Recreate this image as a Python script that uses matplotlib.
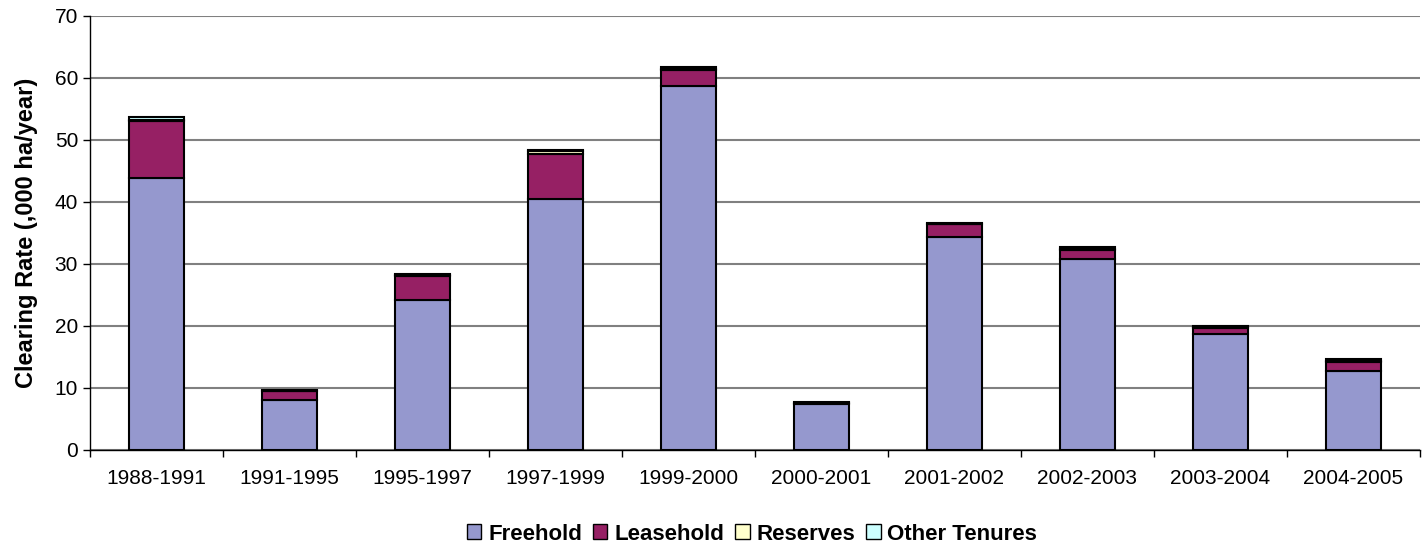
import numpy as np
import matplotlib.pyplot as plt
from matplotlib.ticker import FixedLocator

periods = ["1988-1991", "1991-1995", "1995-1997", "1997-1999", "1999-2000",
           "2000-2001", "2001-2002", "2002-2003", "2003-2004", "2004-2005"]
freehold = [43.9, 8.0, 24.2, 40.5, 58.7, 7.4, 34.4, 30.8, 18.7, 12.7]
leasehold = [9.2, 1.5, 3.9, 7.2, 2.6, 0.2, 2.1, 1.5, 1.0, 1.5]
reserves = [0.1, 0.0, 0.1, 0.5, 0.1, 0.0, 0.0, 0.1, 0.1, 0.1]
other_tenures = [0.4, 0.1, 0.2, 0.1, 0.3, 0.2, 0.1, 0.3, 0.2, 0.3]

series = [("Freehold", freehold, "#9598ce"),
          ("Leasehold", leasehold, "#962064"),
          ("Reserves", reserves, "#ffffcc"),
          ("Other Tenures", other_tenures, "#ccffff")]

plt.rcParams['font.family'] = ['Liberation Sans', 'DejaVu Sans']

fig = plt.figure(figsize=(14.27, 5.44), dpi=100)
ax = fig.add_axes([0.063, 0.173, 0.932, 0.798])

x = np.arange(len(periods))
bottom = np.zeros(len(periods))
for name, vals, col in series:
    vals = np.array(vals)
    ax.bar(x, vals, bottom=bottom, width=0.41, color=col, edgecolor="black",
           linewidth=1.5, label=name, zorder=3)
    bottom += vals

ax.set_xlim(-0.5, len(periods) - 0.5)
ax.set_ylim(0, 70)
ax.set_yticks(range(0, 71, 10))
ax.yaxis.grid(True, color="#808080", linewidth=1.5, zorder=0)
ax.set_xticks(x)
ax.set_xticklabels(periods, fontsize=15)
ax.xaxis.set_minor_locator(FixedLocator(np.arange(-0.5, len(periods), 1.0)))
ax.tick_params(axis="x", which="major", length=0, pad=14)
ax.tick_params(axis="x", which="minor", length=5, width=1)
ax.tick_params(axis="y", labelsize=15, length=5, width=1)
for s in ["top", "right"]:
    ax.spines[s].set_visible(False)
ax.spines["left"].set_linewidth(1)
ax.spines["bottom"].set_linewidth(1)

ax.set_ylabel("Clearing Rate (,000 ha/year)", fontsize=17, fontweight="bold",
              labelpad=12)

leg = fig.legend(*ax.get_legend_handles_labels(), loc="center",
                 bbox_to_anchor=(0.527, 10 / 544), ncol=4,
                 frameon=False, prop={"weight": "bold", "size": 16},
                 handlelength=0.65, handleheight=0.65, handletextpad=0.3,
                 columnspacing=0.5, borderaxespad=0)
for h in leg.legend_handles:
    h.set_linewidth(1)

fig.savefig("out.png", dpi=100)
